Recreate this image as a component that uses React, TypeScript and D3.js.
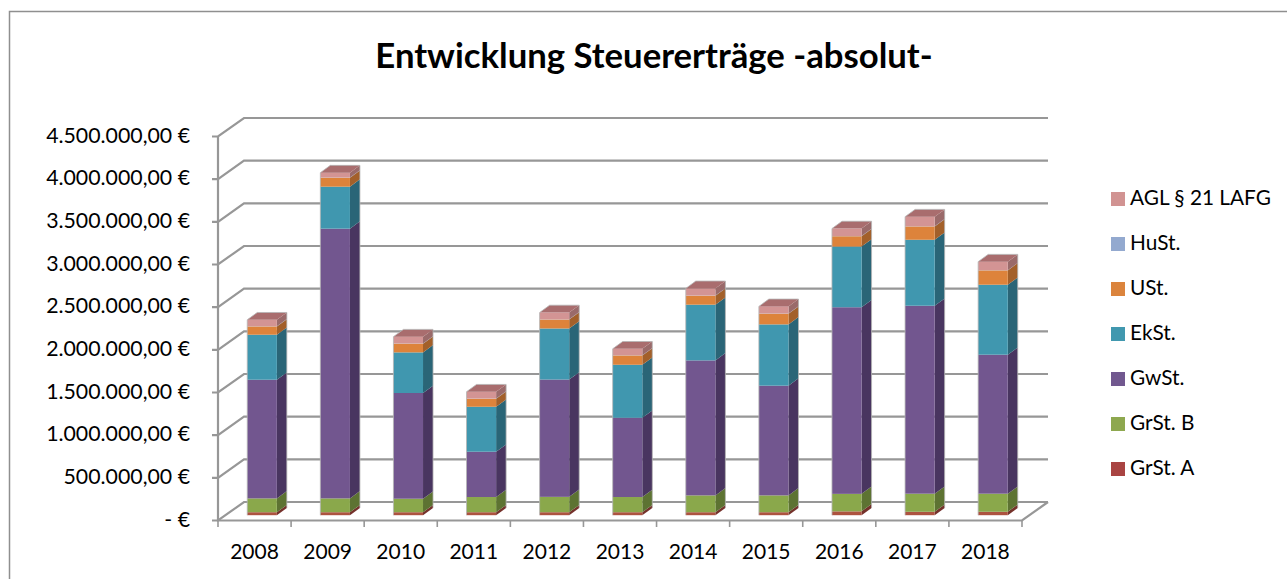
import React from "react";
import * as d3 from "d3";

const years = ["2008", "2009", "2010", "2011", "2012", "2013", "2014", "2015", "2016", "2017", "2018"];
const grStA = [35000, 35000, 35000, 35000, 35000, 35000, 35000, 35000, 45000, 40000, 40000];
const grStB = [162000, 162000, 158000, 178000, 180000, 178000, 197000, 197000, 205000, 212000, 212000];
const gwSt = [1391000, 3161000, 1239000, 531000, 1375000, 929000, 1582000, 1286000, 2187000, 2203000, 1629000];
const ekSt = [527000, 492000, 476000, 527000, 598000, 621000, 653000, 718000, 711000, 773000, 820000];
const uSt = [97000, 105000, 102000, 94000, 105000, 109000, 105000, 125000, 121000, 156000, 168000];
const huSt = [2000, 2000, 2000, 2000, 2000, 2000, 2000, 2000, 2000, 2000, 2000];
const agl = [76000, 57000, 80000, 80000, 80000, 76000, 84000, 84000, 88000, 112000, 100000];

const seriesNames = ["GrSt. A", "GrSt. B", "GwSt.", "EkSt.", "USt.", "HuSt.", "AGL § 21 LAFG"];
const seriesValues = [grStA, grStB, gwSt, ekSt, uSt, huSt, agl];
const frontColors = ["#ad5240", "#8aa84c", "#72568f", "#3f97af", "#dd833a", "#93a9cf", "#d39494"];
const sideColors = ["#74312c", "#5d7333", "#493660", "#296577", "#a3602a", "#66758f", "#9a6b6b"];
const topColor = "#a96d6e";
const legendColors = ["#a94442", "#8ea84f", "#71588f", "#4198af", "#db843d", "#93a9cf", "#d19392"];
const tickValues = d3.range(0, 4500001, 500000);
const tickLabels = ["- €", "500.000,00 €", "1.000.000,00 €", "1.500.000,00 €", "2.000.000,00 €", "2.500.000,00 €", "3.000.000,00 €", "3.500.000,00 €", "4.000.000,00 €", "4.500.000,00 €"];

const FONT = "Lato, Carlito, sans-serif";
const GRID = "#979797";

// fake 3d: how far the back wall and the bars are pushed
const WALL_DX = 26;
const WALL_DY = -18.5;
const BAR_DX = 10;
const BAR_DY = -7.3;
const BAR_INSET_X = 7.5;
const BAR_INSET_Y = -5.3;

export default function App() {
  const x = d3.scaleBand<string>().domain(years).range([218, 1022]).paddingInner(0.595).paddingOuter(0.2975);
  const y = d3.scaleLinear().domain([0, 4500000]).range([520.5, 136.5]);

  const rows = years.map((year, i) => {
    const row: Record<string, any> = { year };
    seriesNames.forEach((name, s) => (row[name] = seriesValues[s][i]));
    return row;
  });
  const stacked = d3.stack<any>().keys(seriesNames)(rows);

  const poly = (pts: number[][]) => d3.line()(pts as [number, number][]) + "Z";

  const bars = years.map((year, i) => {
    const x0 = (x(year) as number) + BAR_INSET_X;
    const x1 = x0 + x.bandwidth();
    const top = y(stacked[stacked.length - 1][i][1]) + BAR_INSET_Y;
    const base = y(0) + BAR_INSET_Y;
    return (
      <g key={year}>
        {stacked.map((layer, s) => {
          const y0 = y(layer[i][0]) + BAR_INSET_Y;
          const y1 = y(layer[i][1]) + BAR_INSET_Y;
          return (
            <g key={layer.key}>
              <path d={poly([[x1, y0], [x1 + BAR_DX, y0 + BAR_DY], [x1 + BAR_DX, y1 + BAR_DY], [x1, y1]])} fill={sideColors[s]} />
              <rect x={x0} y={y1} width={x1 - x0} height={y0 - y1} fill={frontColors[s]} />
            </g>
          );
        })}
        <path d={poly([[x0, top], [x0 + BAR_DX, top + BAR_DY], [x1 + BAR_DX, top + BAR_DY], [x1, top]])} fill={topColor} />
        {/* thin light edge around the bar, left open at the bottom */}
        <path
          d={d3.line()([[x0, base], [x0, top], [x0 + BAR_DX, top + BAR_DY], [x1 + BAR_DX, top + BAR_DY], [x1 + BAR_DX, base + BAR_DY]]) as string}
          fill="none"
          stroke="#b5b5b5"
          strokeWidth={0.8}
        />
      </g>
    );
  });

  return (
    <svg width={1287} height={579} style={{ position: "absolute", left: 0, top: 0, background: "#fff" }}>
      <defs>
        <filter id="soft" x="-5%" y="-5%" width="110%" height="110%">
          <feGaussianBlur stdDeviation="0.45" />
        </filter>
      </defs>

      {/* outer frame, cut off at the bottom and the right */}
      <path d="M9.5,579V11.5H1287" fill="none" stroke="#8f8f8f" strokeWidth={1.5} />

      <text x={654} y={68} textAnchor="middle" fontFamily={FONT} fontWeight={700} fontSize={34.7} fill="#000">
        Entwicklung Steuererträge -absolut-
      </text>

      <g filter="url(#soft)">
        {/* back wall and left side */}
        {tickValues.map((v) => (
          <path
            key={v}
            d={`M212,${y(v)}H218L${218 + WALL_DX},${y(v) + WALL_DY}H${1022 + WALL_DX}`}
            fill="none"
            stroke={GRID}
            strokeWidth={2.2}
          />
        ))}
        <path d={`M${1022 + WALL_DX},${y(0) + WALL_DY}L1022,${y(0)}H218V${y(4500000)}`} fill="none" stroke={GRID} strokeWidth={2.2} />
        {/* category ticks */}
        {[...years.map((yr) => (x(yr) as number) - (x.step() - x.bandwidth()) / 2), 1022].map((t) => (
          <line key={t} x1={t} x2={t} y1={y(0)} y2={y(0) + 6.5} stroke={GRID} strokeWidth={1.6} />
        ))}
        {bars}
      </g>

      {tickValues.map((v, i) => (
        <text key={v} x={190} y={y(v) + 6} textAnchor="end" fontFamily={FONT} fontSize={21.3} fill="#000">
          {tickLabels[i]}
        </text>
      ))}
      {years.map((yr) => (
        <text key={yr} x={(x(yr) as number) + x.bandwidth() / 2} y={559} textAnchor="middle" fontFamily={FONT} fontSize={21} fill="#000">
          {yr}
        </text>
      ))}

      {/* legend, top entry is the last series */}
      {seriesNames.map((name, s) => {
        const cy = 469 - s * 45;
        return (
          <g key={name}>
            <rect x={1111} y={cy - 7} width={14} height={14} fill={legendColors[s]} />
            <text x={1130} y={cy + 6} fontFamily={FONT} fontSize={20.8} fill="#000">
              {name}
            </text>
          </g>
        );
      })}
    </svg>
  );
}
